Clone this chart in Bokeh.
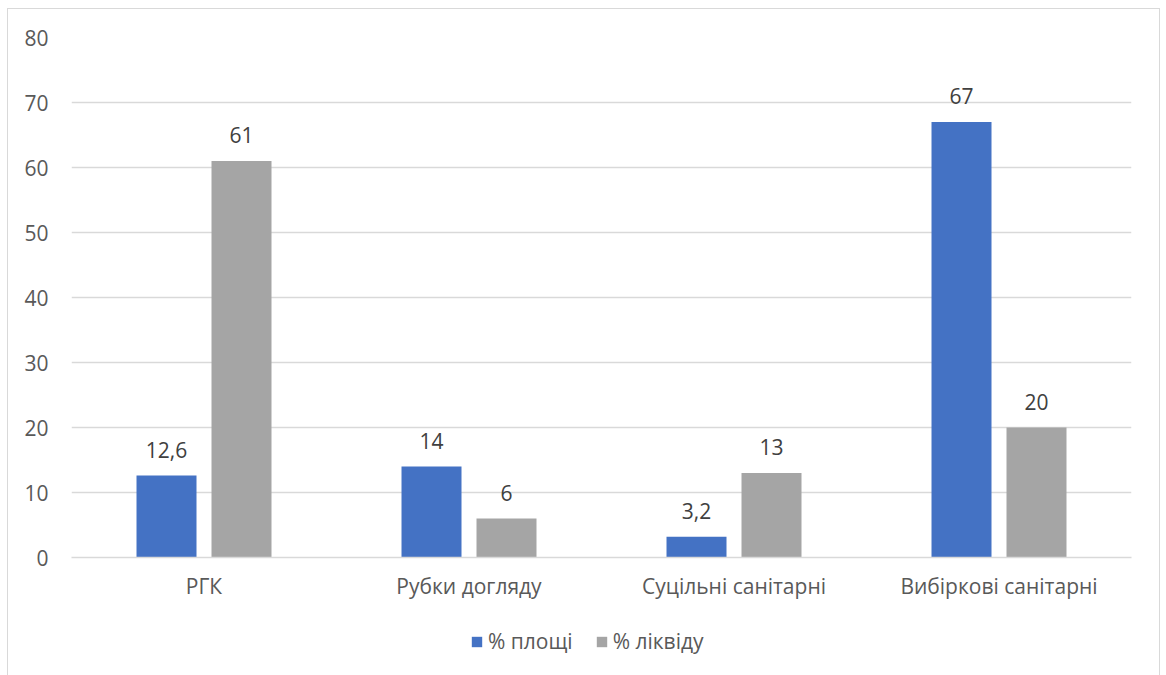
from bokeh.plotting import figure
from bokeh.layouts import column
from bokeh.models import ColumnDataSource, LabelSet, Legend, LegendItem, FixedTicker
from bokeh.core.properties import value
from bokeh.transform import dodge
from bokeh.embed import file_html
from bokeh.resources import INLINE

categories = ["РГК", "Рубки догляду", "Суцільні санітарні", "Вибіркові санітарні"]
area_pct = [12.6, 14, 3.2, 67]
liquid_pct = [61, 6, 13, 20]
series_names = ["% площі", "% ліквіду"]
y_ticks = [0, 10, 20, 30, 40, 50, 60, 70, 80]
colors = ["#4472C4", "#A5A5A5"]

def fmt(v):
    s = ("%g" % v)
    return s.replace(".", ",")

src = ColumnDataSource(dict(
    cat=categories,
    a=area_pct,
    b=liquid_pct,
    a_lab=[fmt(v) for v in area_pct],
    b_lab=[fmt(v) for v in liquid_pct],
))

FONT = "Open Sans"
FS = "21px"
TXT = "#595959"
GRID = "#D9D9D9"

p = figure(x_range=categories, y_range=(0, 80), width=1151, height=606,
           output_backend="svg", toolbar_location=None,
           min_border_left=63, min_border_right=28, min_border_top=28, min_border_bottom=58)
p.outline_line_color = None

r1 = p.vbar(x=dodge("cat", -0.1415, range=p.x_range), top="a", width=0.2264,
            source=src, color=colors[0], line_color=None)
r2 = p.vbar(x=dodge("cat", 0.1415, range=p.x_range), top="b", width=0.2264,
            source=src, color=colors[1], line_color=None)

for col, lab, off in (("a", "a_lab", -0.1415), ("b", "b_lab", 0.1415)):
    ls = LabelSet(x=dodge("cat", off, range=p.x_range), y=col, text=lab, source=src,
                  text_align="center", text_baseline="alphabetic", y_offset=18,
                  text_font=value(FONT), text_font_size=value(FS), text_color="#404040")
    p.add_layout(ls)

p.yaxis.ticker = FixedTicker(ticks=y_ticks)
p.yaxis.axis_line_color = None
p.yaxis.major_tick_line_color = None
p.yaxis.minor_tick_line_color = None
p.yaxis.major_label_standoff = 17
p.yaxis.major_label_text_font = FONT
p.yaxis.major_label_text_font_size = FS
p.yaxis.major_label_text_color = TXT

p.xaxis.axis_line_color = GRID
p.xaxis.axis_line_width = 1.5
p.xaxis.major_tick_line_color = None
p.xaxis.minor_tick_line_color = None
p.xaxis.major_label_standoff = 8
p.xaxis.major_label_text_font = FONT
p.xaxis.major_label_text_font_size = FS
p.xaxis.major_label_text_color = TXT

p.xgrid.grid_line_color = None
p.ygrid.grid_line_color = GRID
p.ygrid.grid_line_width = 1.5

# legend strip below the chart
lg = figure(x_range=(0, 1), y_range=(0, 1), width=1151, height=60,
            output_backend="svg", toolbar_location=None,
            min_border_left=0, min_border_right=0, min_border_top=0, min_border_bottom=0)
lg.axis.visible = False
lg.grid.visible = False
lg.outline_line_color = None
# zero-height swatch renderers (only their legend glyphs are visible)
d1 = lg.vbar(x=[0.5], top=[0], bottom=[0], width=0.0, color=colors[0], line_color=None)
d2 = lg.vbar(x=[0.5], top=[0], bottom=[0], width=0.0, color=colors[1], line_color=None)
legend = Legend(items=[LegendItem(label=series_names[0], renderers=[d1]),
                       LegendItem(label=series_names[1], renderers=[d2])],
                orientation="horizontal", location=(399, 20),
                glyph_width=13, glyph_height=13, label_standoff=5, spacing=22,
                label_text_font=FONT, label_text_font_size=FS, label_text_color=TXT,
                border_line_color=None, background_fill_alpha=0, padding=0, margin=0)
lg.add_layout(legend, "center")

layout = column(p, lg, spacing=0)
layout.styles = {"border": "1px solid #D9D9D9", "border-bottom": "none",
                 "margin-left": "7px", "margin-top": "8px"}

open("out.html", "w").write(file_html(layout, INLINE))
